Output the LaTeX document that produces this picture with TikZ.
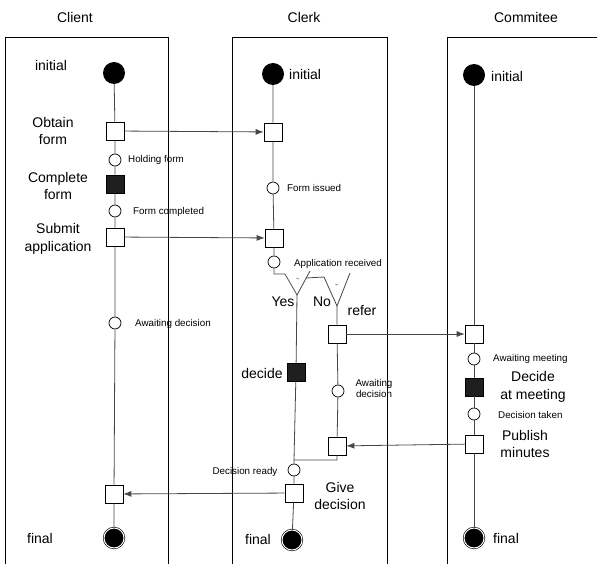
\documentclass[tikz,border=0pt]{standalone}
\usepackage{fontspec}
\setmainfont{Liberation Sans}
\usetikzlibrary{arrows.meta}

\begin{document}
\begin{tikzpicture}
    [%%%%%%%%%%%%%%%%%%%%%%%%%%%%%%
        x=1pt,y=-1pt,
        lane/.style={draw=black,line width=0.8pt},
        flow/.style={draw=black!72,line width=0.8pt},
        msg/.style={flow,-{Latex[length=8pt,width=6pt]}},
        act/.style={rectangle,draw=black,fill=white,line width=0.7pt,minimum size=18pt,inner sep=0pt},
        actdone/.style={act,fill=black!88},
        state/.style={circle,draw=black,fill=white,line width=0.7pt,minimum size=12pt,inner sep=0pt},
        start/.style={circle,fill=black,minimum size=22pt,inner sep=0pt},
        stop/.style={circle,fill=black,draw=black,double=white,double distance=1pt,line width=0.6pt,minimum size=20pt,inner sep=0pt},
        big/.style={font=\fontsize{14}{17.5}\selectfont,align=center,inner sep=0pt},
        small/.style={font=\fontsize{9.8}{11}\selectfont,anchor=west,inner sep=0pt}
    ]%%%%%%%%%%%%%%%%%%%%%%%%%%%%%%

\useasboundingbox (0,0) rectangle (597,564);

% swimlanes
\foreach \lx/\rx/\ttl/\tx in {5/168/Client/75,232/387/Clerk/304,447/597/Commitee/526}{
    \node[big] (title-\ttl) at (\tx,17) {\ttl};
    \draw[lane] (\lx,564) |- (\rx,37) -- (\rx,564);
}

% Client
\node[start]   (cInit)     at (114,73)  {};
\node[act]     (cObtain)   at (115,131) {};
\node[state]   (cHold)     at (115,160) {};
\node[actdone] (cComplete) at (115,184) {};
\node[state]   (cFormDone) at (115,211) {};
\node[act]     (cSubmit)   at (115,237) {};
\node[state]   (cWait)     at (115,323) {};
\node[act]     (cEnd)      at (114,494) {};
\node[stop]    (cFinal)    at (114,538) {};

\node[big] (cInitLbl)     at (51,65)  {initial};
\node[big] (cObtainLbl)   at (53,131) {Obtain\\form};
\node[big] (cCompleteLbl) at (58,186) {Complete\\form};
\node[big] (cSubmitLbl)   at (58,239) {Submit\\application};
\node[big] (cFinalLbl)    at (40,538) {final};
\node[small] (cHoldLbl)     at (128,160) {Holding form};
\node[small] (cFormDoneLbl) at (133,212) {Form completed};
\node[small] (cWaitLbl)     at (135,324) {Awaiting decision};

\draw[flow] (cInit) -- (cObtain) -- (cHold) -- (cComplete) -- (cFormDone)
    -- (cSubmit) -- (cWait) -- (cEnd) -- (cFinal);

% Clerk
\node[start]   (kInit)    at (273,74)  {};
\node[act]     (kObtain)  at (273,132) {};
\node[state]   (kIssued)  at (273,188) {};
\node[act]     (kSubmit)  at (274,238) {};
\node[state]   (kRecv)    at (274,262) {};
\node[actdone] (kDecide)  at (296,372) {};
\node[act]     (kRefer)   at (337,334) {};
\node[state]   (kAwait)   at (338,391) {};
\node[act]     (kMinutes) at (337,446) {};
\node[state]   (kReady)   at (294,470) {};
\node[act]     (kGive)    at (294,493) {};
\node[stop]    (kFinal)   at (292,540) {};

\coordinate (y1l) at (285,274);
\coordinate (y1v) at (297,295);
\coordinate (y1r) at (310,271);
\coordinate (y1h) at (306,278);
\coordinate (y2l) at (324,277);
\coordinate (y2v) at (337,306);
\coordinate (y2r) at (350,273);
\coordinate (mrg) at (294,460);

\node[big] (kInitLbl)   at (289,74) [anchor=west] {initial};
\node[big] (kYesLbl)    at (283,302) {Yes};
\node[big] (kNoLbl)     at (322,302) {No};
\node[big] (kReferLbl)  at (362,311) {refer};
\node[big] (kDecideLbl) at (262,373) {decide};
\node[big] (kGiveLbl)   at (340,496) {Give\\decision};
\node[big] (kFinalLbl)  at (258,539) {final};
\node[small] (kIssuedLbl) at (287,188) {Form issued};
\node[small] (kRecvLbl)   at (294,264) {Application received};
\node[small,anchor=center,align=center] (kAwaitLbl) at (374,388) {Awaiting\\decision};
\node[small,anchor=center] (kReadyLbl) at (245,472) {Decision ready};

\draw[flow] (kInit) -- (kObtain) -- (kIssued) -- (kSubmit) -- (kRecv);
\draw[flow] (kRecv) -- (kRecv |- y1l) -- (y1l) -- (y1v) -- (y1r);
\draw[flow] (y1h) -- (y2l) -- (y2v) -- (y2r);
\draw[flow] (y1v) -- (kDecide);
\draw[flow] (y2v) -- (kRefer) -- (kAwait) -- (kMinutes);
\draw[flow] (kDecide) -- (mrg) -- (kMinutes.south |- mrg) -- (kMinutes);
\draw[flow] (mrg) -- (kReady) -- (kGive) -- (kFinal);
\draw[flow,line width=0.5pt] (296.5,278) -- ++(1,0.8) -- ++(1.5,0);
\draw[flow,line width=0.5pt] (335.5,284) -- ++(1,0.8) -- ++(1.5,0);

% Commitee
\node[start]   (mInit)    at (474,75)  {};
\node[act]     (mRefer)   at (474,334) {};
\node[state]   (mMeet)    at (474,359) {};
\node[actdone] (mDecide)  at (474,387) {};
\node[state]   (mTaken)   at (474,414) {};
\node[act]     (mMinutes) at (474,444) {};
\node[stop]    (mFinal)   at (474,538) {};

\node[big] (mInitLbl)    at (491,76) [anchor=west] {initial};
\node[big] (mDecideLbl)  at (533,387) {Decide\\at meeting};
\node[big] (mMinutesLbl) at (525,444) {Publish\\minutes};
\node[big] (mFinalLbl)   at (493,538) [anchor=west] {final};
\node[small] (mMeetLbl)  at (493,359) {Awaiting meeting};
\node[small] (mTakenLbl) at (498,415) {Decision taken};

\draw[flow] (mInit) -- (mRefer) -- (mMeet) -- (mDecide) -- (mTaken)
    -- (mMinutes) -- (mFinal);

% messages between lanes
\draw[msg] (cObtain) -- (kObtain);
\draw[msg] (cSubmit) -- (kSubmit);
\draw[msg] (kRefer) -- (mRefer);
\draw[msg] (mMinutes) -- (kMinutes);
\draw[msg] (kGive) -- (cEnd);

\end{tikzpicture}
\end{document}
